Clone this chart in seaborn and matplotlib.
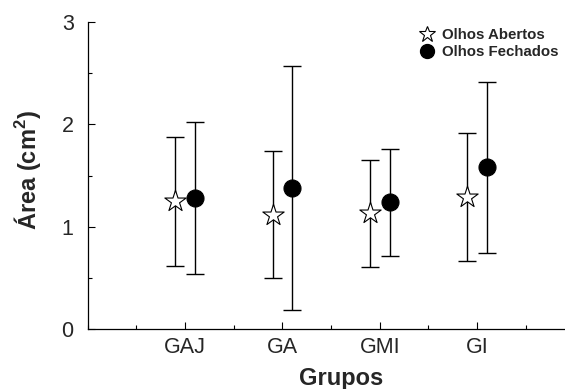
import numpy as np
import pandas as pd
import matplotlib
matplotlib.use("Agg")
import matplotlib.pyplot as plt
from matplotlib.lines import Line2D
from matplotlib.ticker import MultipleLocator
import seaborn as sns

# Group means and standard deviations of sway area
grupos = ["GAJ", "GA", "GMI", "GI"]
abertos_media = [1.25, 1.12, 1.13, 1.29]
abertos_dp = [0.63, 0.62, 0.525, 0.625]
fechados_media = [1.28, 1.38, 1.24, 1.58]
fechados_dp = [0.74, 1.19, 0.525, 0.84]
condicoes = ["Olhos Abertos", "Olhos Fechados"]

sns.set_style("ticks")
plt.rcParams["font.family"] = ["Liberation Sans", "DejaVu Sans"]
plt.rcParams["mathtext.fontset"] = "custom"
plt.rcParams["mathtext.rm"] = "Liberation Sans"
plt.rcParams["mathtext.bf"] = "Liberation Sans:bold"

fig = plt.figure(figsize=(5.65, 3.89), dpi=100)
ax = fig.add_axes([0.155, 0.154, 0.862, 0.789])

pos = np.arange(1, len(grupos) + 1)
desloc = 0.1
df = pd.DataFrame({
    "x": np.concatenate([pos - desloc, pos + desloc]),
    "area": abertos_media + fechados_media,
    "dp": abertos_dp + fechados_dp,
    "cond": [condicoes[0]] * len(grupos) + [condicoes[1]] * len(grupos),
})

for cond in condicoes:
    sub = df[df["cond"] == cond]
    ax.errorbar(sub["x"], sub["area"], yerr=sub["dp"], fmt="none",
                ecolor="black", elinewidth=1.0, capsize=6.5, capthick=1.0,
                zorder=2)

sns.scatterplot(data=df[df["cond"] == condicoes[0]], x="x", y="area",
                marker="*", s=260, color="white", edgecolor="black",
                linewidth=0.8, ax=ax, zorder=3, legend=False)
sns.scatterplot(data=df[df["cond"] == condicoes[1]], x="x", y="area",
                marker="o", s=150, color="black", edgecolor="black",
                linewidth=0.8, ax=ax, zorder=3, legend=False)

ax.set_xlim(0, 5)
ax.set_ylim(0, 3)
ax.set_xticks(pos)
ax.set_xticklabels(grupos)
ax.xaxis.set_minor_locator(MultipleLocator(0.5))
ax.set_yticks([0, 1, 2, 3])
ax.yaxis.set_minor_locator(MultipleLocator(0.5))
ax.tick_params(axis="both", which="both", direction="in", color="black")
ax.tick_params(axis="both", which="major", length=5, width=0.8,
               labelsize=15.5)
ax.tick_params(axis="x", which="major", pad=6)
ax.tick_params(axis="y", which="major", pad=10)
ax.tick_params(axis="both", which="minor", length=3, width=0.8)
ax.tick_params(axis="x", which="minor", labelbottom=False)

for side in ["top", "right"]:
    ax.spines[side].set_visible(False)
for side in ["left", "bottom"]:
    ax.spines[side].set_linewidth(0.9)
    ax.spines[side].set_color("black")

ax.set_xlabel("Grupos", fontsize=17, fontweight="bold")
ax.set_ylabel(r"Área (cm$^{\mathbf{2}}$)", fontsize=17, fontweight="bold")
ax.xaxis.set_label_coords(0.52, -0.122)
ax.yaxis.set_label_coords(-0.092, 0.518)

handles = [
    Line2D([], [], marker="*", linestyle="none", markersize=12,
           markerfacecolor="white", markeredgecolor="black",
           markeredgewidth=0.8),
    Line2D([], [], marker="o", linestyle="none", markersize=10,
           markerfacecolor="black", markeredgecolor="black"),
]
ax.legend(handles, condicoes, loc="upper right",
          bbox_to_anchor=(558 / 565, 1 - 28 / 389),
          bbox_transform=fig.transFigure,
          frameon=False, handletextpad=0.5, handlelength=1.0,
          labelspacing=0.22, borderaxespad=0.0, borderpad=0.0,
          prop={"weight": "bold", "size": 10.8})

fig.savefig("out.png", dpi=100)
